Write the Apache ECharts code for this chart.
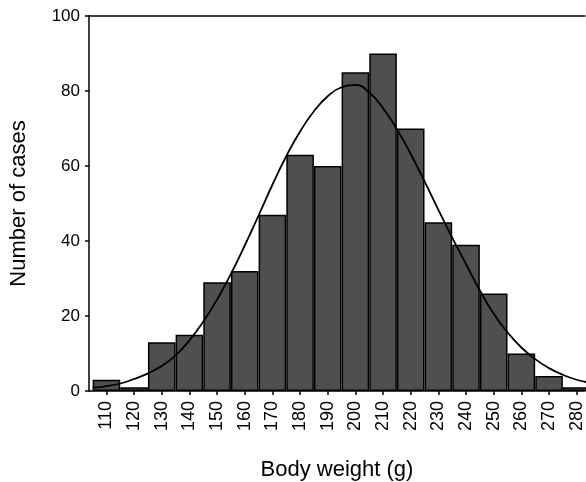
<!DOCTYPE html>
<html>
<head>
<meta charset="utf-8">
<script src="https://cdn.jsdelivr.net/npm/echarts@6/dist/echarts.min.js"></script>
<style>
  html, body { margin: 0; padding: 0; background: #fff; }
  #chart { width: 586px; height: 482px; }
</style>
</head>
<body>
<div id="chart"></div>
<script>
// 直方图分组（体重, g）
var weightBins = [110, 120, 130, 140, 150, 160, 170, 180, 190, 200, 210, 220, 230, 240, 250, 260, 270, 280];
// 每组例数
var caseCounts = [3, 1, 13, 15, 29, 32, 47, 63, 60, 85, 90, 70, 45, 39, 26, 10, 4, 1];
// 正态曲线（从图上读取的点，每 5 g 一个）
var curveX = [105, 110, 115, 120, 125, 130, 135, 140, 145, 150, 155, 160, 165, 170, 175, 180, 185, 190, 195, 200,
              205, 210, 215, 220, 225, 230, 235, 240, 245, 250, 255, 260, 265, 270, 275, 280, 285];
var curveY = [0.9, 1.3, 2.0, 3.2, 4.7, 6.7, 9.5, 13.5, 18.5, 24.4, 31.2, 38.8, 46.8, 55, 62.6, 69.2, 74.6, 78.6, 81, 81.6,
              79.6, 75.4, 69.8, 63.2, 55.9, 48.3, 40.9, 33.8, 26.8, 20.6, 15.6, 11.6, 8.5, 6.1, 4.3, 3.0, 2.2];
// 坐标轴刻度
var yTicks = [0, 20, 40, 60, 80, 100];

var fontFamily = "'Liberation Sans', Arial, sans-serif";

var barData = [];
for (var i = 0; i < weightBins.length; i++) {
  barData.push([weightBins[i], caseCounts[i]]);
}
var curveData = [];
for (var j = 0; j < curveX.length; j++) {
  curveData.push([curveX[j], curveY[j]]);
}

var chart = echarts.init(document.getElementById('chart'));
chart.setOption({
  animation: false,
  grid: { left: 89, top: 16, right: 1, bottom: 91, outerBoundsMode: 'none', containLabel: false },
  xAxis: [
    {
      type: 'value',
      min: 103.7,
      max: 283,
      name: 'Body weight (g)',
      nameLocation: 'middle',
      nameGap: 68,
      nameTextStyle: { color: '#000', fontSize: 22, fontFamily: fontFamily },
      axisLine: { show: true, lineStyle: { color: '#000', width: 1.5 } },
      axisTick: { show: true, length: 4, customValues: weightBins, lineStyle: { color: '#000', width: 1.5 } },
      axisLabel: { rotate: 90, margin: 10, customValues: weightBins, color: '#000', fontSize: 18, fontFamily: fontFamily },
      splitLine: { show: false }
    },
    {
      type: 'value',
      position: 'top',
      min: 103.7,
      max: 283,
      axisLine: { show: true, onZero: false, lineStyle: { color: '#000', width: 1.5 } },
      axisTick: { show: false },
      axisLabel: { show: false },
      splitLine: { show: false }
    }
  ],
  yAxis: {
    type: 'value',
    min: yTicks[0],
    max: yTicks[yTicks.length - 1],
    interval: 20,
    name: 'Number of cases',
    nameLocation: 'middle',
    nameGap: 59,
    nameTextStyle: { color: '#000', fontSize: 22, fontFamily: fontFamily },
    axisLine: { show: true, lineStyle: { color: '#000', width: 1.5 } },
    axisTick: { show: true, length: 4, lineStyle: { color: '#000', width: 1.5 } },
    axisLabel: { margin: 9, color: '#000', fontSize: 17, fontFamily: fontFamily },
    splitLine: { show: false }
  },
  series: [
    {
      type: 'bar',
      data: barData,
      barWidth: 27.6,
      itemStyle: { color: '#4f4f4f', borderColor: '#000', borderWidth: 1.5 },
      clip: true
    },
    {
      type: 'line',
      data: curveData,
      smooth: true,
      showSymbol: false,
      symbol: 'none',
      lineStyle: { color: '#000', width: 1.8 },
      clip: true
    }
  ]
});
</script>
</body>
</html>
